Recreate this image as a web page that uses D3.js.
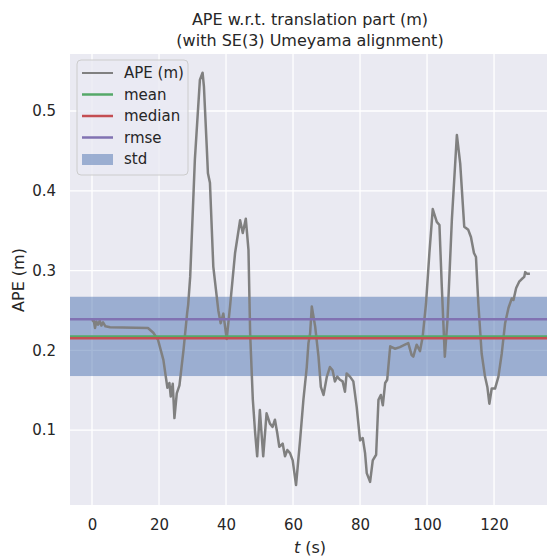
<!DOCTYPE html>
<html lang="en">
  <head>
    <meta charset="utf-8">
    <script src="https://cdn.jsdelivr.net/npm/d3@7"></script>
    <style>
      body { margin: 0; background: #fff; }
      text { font-family: "DejaVu Sans", sans-serif; fill: #262626; }
      .grid line { stroke: #fff; stroke-width: 1.3; }
    </style>
  </head>
  <body>
    <script>
      var width = 547, height = 559;

      // APE samples: time (s) and error (m)
      var times = [0, 0.5, 0.9, 1.3, 1.8, 2.3, 2.8, 3.3, 4.0, 5.4, 16.7, 18.3, 19.7, 21.3, 22.5, 23.1, 23.5, 24.1, 24.6, 25.3, 26.1, 27.3, 28.4, 28.7, 29.3, 30.7, 32.2, 33.0, 33.4, 34.3, 34.6, 35.2, 36.2, 37.7, 38.4, 39.2, 40.2, 41.2, 42.7, 44.2, 45.0, 45.9, 46.7, 47.2, 48.0, 48.7, 49.3, 50.1, 50.6, 51.1, 52.1, 53.1, 53.9, 54.6, 55.3, 55.9, 56.9, 57.6, 58.3, 59.1, 59.9, 60.9, 62.1, 63.1, 64.1, 64.6, 65.1, 65.6, 66.6, 67.6, 68.3, 69.1, 70.1, 71.0, 71.8, 72.5, 73.2, 74.0, 74.8, 75.5, 76.0, 77.0, 78.0, 79.0, 80.0, 80.8, 81.5, 82.0, 83.0, 83.8, 84.8, 85.5, 86.2, 86.8, 87.5, 88.1, 89.0, 90.4, 91.9, 93.4, 94.4, 95.4, 95.9, 96.9, 97.9, 98.7, 99.7, 100.7, 101.7, 102.9, 103.7, 104.4, 105.3, 106.1, 107.4, 108.9, 109.9, 111.1, 112.3, 113.1, 114.0, 114.6, 115.3, 116.3, 117.3, 118.0, 118.6, 119.3, 120.3, 121.3, 122.3, 123.3, 124.3, 125.3, 125.8, 126.6, 127.5, 128.2, 129.0, 129.3, 129.8, 130.7];
      var apeValues = [0.236, 0.238, 0.228, 0.236, 0.232, 0.237, 0.231, 0.235, 0.230, 0.229, 0.228, 0.222, 0.213, 0.188, 0.153, 0.159, 0.142, 0.158, 0.115, 0.146, 0.156, 0.200, 0.247, 0.257, 0.292, 0.439, 0.539, 0.548, 0.531, 0.45, 0.422, 0.410, 0.305, 0.250, 0.234, 0.246, 0.214, 0.255, 0.322, 0.363, 0.347, 0.365, 0.326, 0.221, 0.138, 0.096, 0.067, 0.125, 0.096, 0.067, 0.121, 0.108, 0.104, 0.113, 0.096, 0.079, 0.083, 0.067, 0.075, 0.071, 0.062, 0.031, 0.087, 0.138, 0.179, 0.209, 0.221, 0.255, 0.230, 0.192, 0.154, 0.144, 0.167, 0.179, 0.175, 0.161, 0.167, 0.163, 0.161, 0.148, 0.171, 0.167, 0.161, 0.129, 0.087, 0.090, 0.071, 0.046, 0.035, 0.062, 0.069, 0.138, 0.144, 0.131, 0.159, 0.163, 0.205, 0.202, 0.204, 0.207, 0.209, 0.194, 0.192, 0.207, 0.199, 0.217, 0.259, 0.322, 0.377, 0.361, 0.357, 0.280, 0.192, 0.238, 0.363, 0.470, 0.434, 0.355, 0.351, 0.342, 0.322, 0.317, 0.259, 0.196, 0.167, 0.154, 0.133, 0.152, 0.152, 0.167, 0.196, 0.234, 0.253, 0.265, 0.263, 0.278, 0.286, 0.289, 0.292, 0.298, 0.296, 0.296];

      // statistics
      var statNames = ["mean", "median", "rmse"];
      var statValues = [0.2174, 0.2150, 0.2388];
      var statColors = ["#55a868", "#c44e52", "#8172b2"];
      var stdValue = 0.0497;

      var xTicks = [0, 20, 40, 60, 80, 100, 120];
      var yTicks = [0.1, 0.2, 0.3, 0.4, 0.5];

      var x = d3.scaleLinear().domain([-6.57, 136.4]).range([70, 549]);
      var y = d3.scaleLinear().domain([0.006, 0.5715]).range([505, 54]);

      var svg = d3.select("body").append("svg").attr("width", width).attr("height", height);

      svg.append("rect").attr("x", 70).attr("y", 54).attr("width", 479).attr("height", 451)
        .attr("fill", "#eaeaf2");

      var grid = svg.append("g").attr("class", "grid");
      grid.selectAll("line.gx").data(xTicks).enter().append("line")
        .attr("x1", function(d){ return x(d); }).attr("x2", function(d){ return x(d); })
        .attr("y1", 54).attr("y2", 505);
      grid.selectAll("line.gy").data(yTicks).enter().append("line")
        .attr("y1", function(d){ return y(d); }).attr("y2", function(d){ return y(d); })
        .attr("x1", 70).attr("x2", 549);

      // std band around the mean
      svg.append("rect")
        .attr("x", 70).attr("width", 479)
        .attr("y", y(statValues[0] + stdValue))
        .attr("height", y(statValues[0] - stdValue) - y(statValues[0] + stdValue))
        .attr("fill", "#4c72b0").attr("fill-opacity", 0.5);

      var line = d3.line()
        .x(function(d, i){ return x(times[i]); })
        .y(function(d){ return y(d); });

      svg.append("path").datum(apeValues)
        .attr("d", line)
        .attr("fill", "none").attr("stroke", "#808080").attr("stroke-width", 2.5)
        .attr("stroke-linejoin", "round");

      svg.selectAll("line.stat").data(statValues).enter().append("line")
        .attr("x1", 70).attr("x2", 549)
        .attr("y1", function(d){ return y(d); }).attr("y2", function(d){ return y(d); })
        .attr("stroke", function(d, i){ return statColors[i]; })
        .attr("stroke-width", 2.5);

      // axes (no spines, seaborn style)
      var xAxis = svg.append("g").attr("transform", "translate(0,505)")
        .call(d3.axisBottom(x).tickValues(xTicks).tickSize(0).tickPadding(14));
      var yAxis = svg.append("g").attr("transform", "translate(70,0)")
        .call(d3.axisLeft(y).tickValues(yTicks).tickSize(0).tickPadding(14).tickFormat(d3.format(".1f")));
      [xAxis, yAxis].forEach(function(a){
        a.select(".domain").remove();
        a.selectAll("text").style("font-size", "15px").attr("fill", "#262626");
      });

      svg.append("text").attr("x", 310).attr("y", 553).attr("text-anchor", "middle")
        .style("font-size", "16px")
        .html('<tspan font-style="italic">t</tspan> (s)');
      svg.append("text").attr("transform", "translate(24,280) rotate(-90)")
        .attr("text-anchor", "middle").style("font-size", "16px").text("APE (m)");

      svg.append("text").attr("x", 310).attr("y", 25).attr("text-anchor", "middle")
        .style("font-size", "16px").text("APE w.r.t. translation part (m)");
      svg.append("text").attr("x", 310).attr("y", 46).attr("text-anchor", "middle")
        .style("font-size", "16px").text("(with SE(3) Umeyama alignment)");

      // legend
      var legendLabels = ["APE (m)", "mean", "median", "rmse", "std"];
      var legendColors = ["#808080"].concat(statColors);
      var lg = svg.append("g");
      lg.append("rect").attr("x", 77).attr("y", 60).attr("width", 111).attr("height", 115)
        .attr("rx", 4).attr("fill", "#eaeaf2").attr("fill-opacity", 0.8)
        .attr("stroke", "#cccccc").attr("stroke-width", 1);
      var rowY = d3.scaleLinear().domain([0, 4]).range([73, 159]);
      legendLabels.forEach(function(lbl, i){
        if (i < 4) {
          lg.append("line").attr("x1", 82).attr("x2", 113)
            .attr("y1", rowY(i)).attr("y2", rowY(i))
            .attr("stroke", legendColors[i]).attr("stroke-width", i === 0 ? 2 : 2.5);
        } else {
          lg.append("rect").attr("x", 82).attr("y", rowY(i) - 5).attr("width", 31).attr("height", 11)
            .attr("fill", "#4c72b0").attr("fill-opacity", 0.5);
        }
        lg.append("text").attr("x", 124).attr("y", rowY(i)).attr("dy", "0.35em")
          .style("font-size", "15px").text(lbl);
      });
    </script>
  </body>
</html>
